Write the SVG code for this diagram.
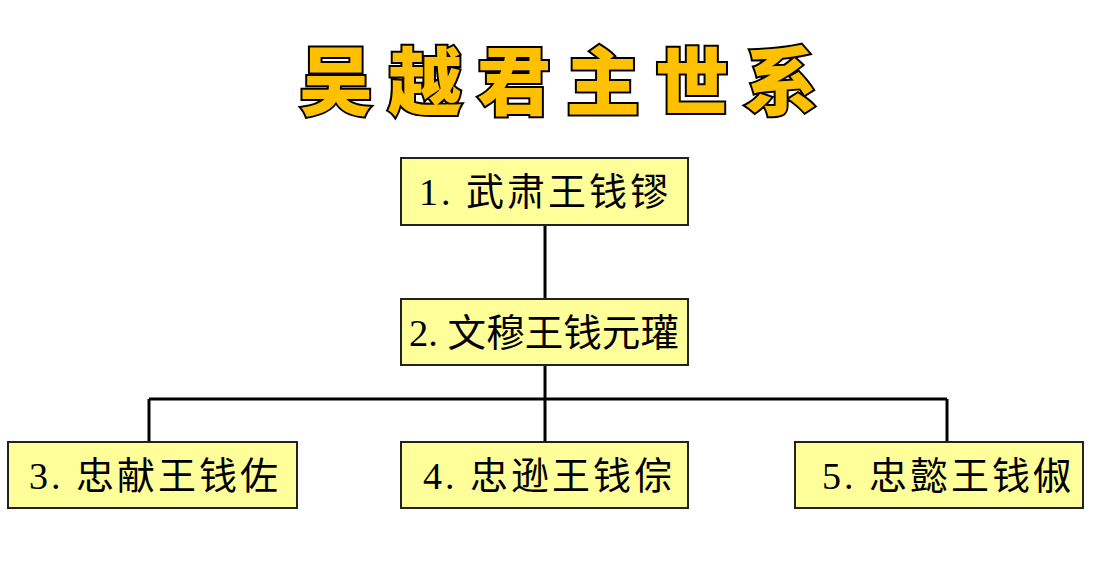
<svg xmlns="http://www.w3.org/2000/svg" width="1096" height="580" viewBox="0 0 1096 580">
<style>
.box{fill:#FFFF99;stroke:#222;stroke-width:2}
.lbl{font-family:"Liberation Serif","Noto Sans CJK SC",serif;font-size:38px;fill:#000;letter-spacing:3px}
.lbl2{font-family:"Liberation Serif","Noto Sans CJK SC",serif;font-size:38px;fill:#000}
.title{font-family:"Noto Sans CJK SC",sans-serif;font-weight:900;font-size:74px;fill:#FFC000;stroke:#000;stroke-width:4;paint-order:stroke;letter-spacing:15px}
.conn{stroke:#000;stroke-width:3;fill:none}
</style>
<rect width="1096" height="580" fill="#fff"/>
<text class="title" x="566" y="109" text-anchor="middle">吴越君主世系</text>
<g id="connectors">
<path class="conn" d="M545 225V299M545 365V442M149 399H947M149 399V442M947 399V442"/>
</g>
<g id="n1"><rect class="box" x="401" y="158" width="287" height="67"/><text class="lbl" x="545" y="205" text-anchor="middle">1. 武肃王钱镠</text></g>
<g id="n2"><rect class="box" x="401" y="299" width="287" height="66"/><text class="lbl2" x="409" y="346" textLength="270" lengthAdjust="spacingAndGlyphs">2. 文穆王钱元瓘</text></g>
<g id="n3"><rect class="box" x="8" y="442" width="289" height="66"/><text class="lbl" x="155" y="489" text-anchor="middle">3. 忠献王钱佐</text></g>
<g id="n4"><rect class="box" x="401" y="442" width="287" height="66"/><text class="lbl" x="549" y="489" text-anchor="middle">4. 忠逊王钱倧</text></g>
<g id="n5"><rect class="box" x="795" y="442" width="288" height="66"/><text class="lbl" x="948" y="489" text-anchor="middle">5. 忠懿王钱俶</text></g>
</svg>
